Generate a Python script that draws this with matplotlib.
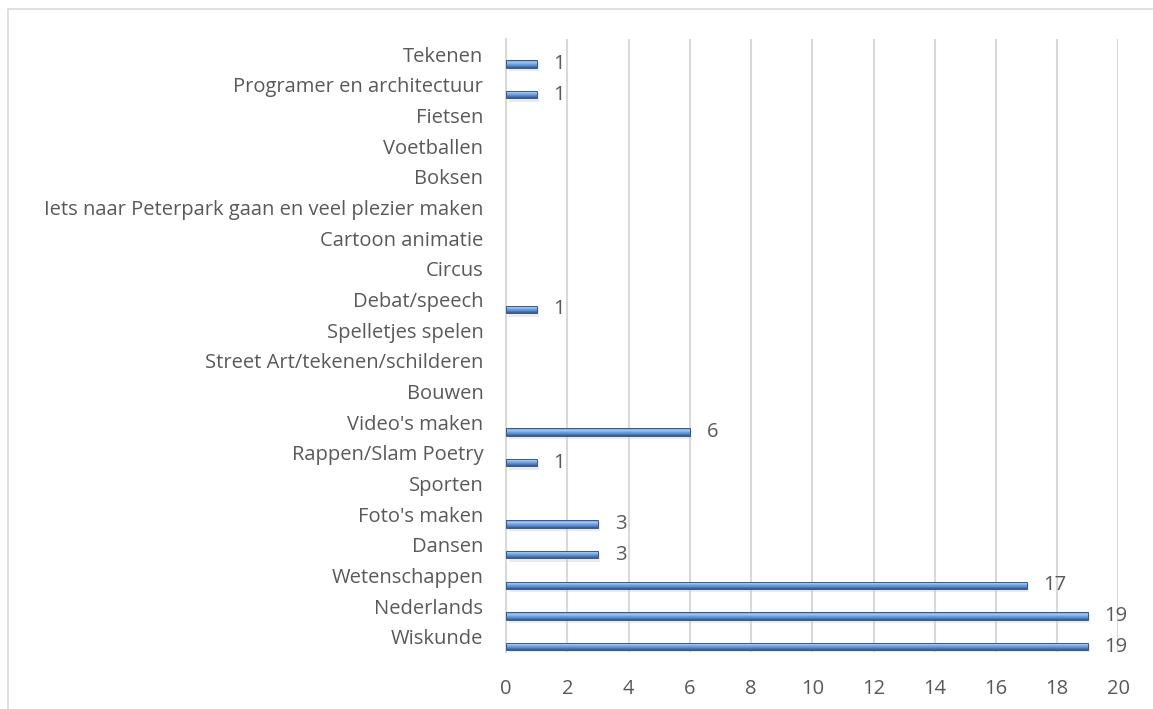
import numpy as np
import matplotlib
matplotlib.use("Agg")
import matplotlib.pyplot as plt
from matplotlib.colors import LinearSegmentedColormap
from matplotlib.lines import Line2D

categories = [
    "Wiskunde", "Nederlands", "Wetenschappen", "Dansen", "Foto's maken",
    "Sporten", "Rappen/Slam Poetry", "Video's maken", "Bouwen",
    "Street Art/tekenen/schilderen", "Spelletjes spelen", "Debat/speech",
    "Circus", "Cartoon animatie", "Iets naar Peterpark gaan en veel plezier maken",
    "Boksen", "Voetballen", "Fietsen", "Programer en architectuur", "Tekenen",
]
counts = [19, 19, 17, 3, 3, 0, 1, 6, 0, 0, 0, 1, 0, 0, 0, 0, 0, 0, 1, 1]
x_ticks = list(range(0, 21, 2))

plt.rcParams["font.family"] = ["Open Sans", "DejaVu Sans"]
text_col = "#595959"
grid_col = "#d9d9d9"
fsize = 14.5

fig = plt.figure(figsize=(11.53, 7.09), dpi=100)
ax = fig.add_axes([0.439, 0.080, 0.531, 0.865])

pos = np.arange(len(categories))
shift = 0.32  # bars sit a bit below their label (3-D look)

# soft shadow under the bars
vals = np.array(counts, dtype=float)
ax.barh(pos[vals > 0] - shift - 0.08, vals[vals > 0], height=0.3, left=0.08,
        color="#c8c8c8", alpha=0.35, zorder=2, linewidth=0)

bars = ax.barh(pos - shift, counts, height=0.24, color="none",
               edgecolor="#34598c", linewidth=0.7, zorder=4)

cmap = LinearSegmentedColormap.from_list(
    "bar3d", ["#4673b0", "#aecdf1", "#79a7e0", "#5287c8", "#2f5590"])
grad = np.linspace(0, 1, 64).reshape(-1, 1)
for p in bars:
    if p.get_width() == 0:
        p.set_visible(False)
        continue
    x0, y0 = p.get_x(), p.get_y()
    im = ax.imshow(grad, cmap=cmap, aspect="auto", zorder=3,
                   extent=(x0, x0 + p.get_width(), y0, y0 + p.get_height()))
    im.set_clip_path(p)

for y, v in zip(pos, counts):
    if v > 0:
        ax.text(v + 0.55, y - shift, str(v), va="center", ha="left",
                fontsize=fsize, color=text_col)

ax.set_xlim(0, 20)
ax.set_ylim(-0.5, len(categories) - 0.5)
ax.set_xticks(x_ticks)
ax.set_yticks(pos)
ax.set_yticklabels(categories)
ax.tick_params(axis="y", length=0, pad=16.5, labelsize=fsize, labelcolor=text_col)
ax.tick_params(axis="x", length=0, pad=19, labelsize=fsize, labelcolor=text_col)
ax.xaxis.grid(True, color=grid_col, linewidth=1.5)
ax.set_axisbelow(True)
for s in ["top", "right", "bottom"]:
    ax.spines[s].set_visible(False)
ax.spines["left"].set_color(grid_col)
ax.spines["left"].set_linewidth(1.5)

# chart area border (top and left visible)
fig.add_artist(Line2D([8 / 1153, 8 / 1153, 1152 / 1153], [0, 1 - 9 / 709, 1 - 9 / 709],
                      transform=fig.transFigure, color=grid_col, linewidth=1.2))

fig.savefig("out.png", dpi=100)
